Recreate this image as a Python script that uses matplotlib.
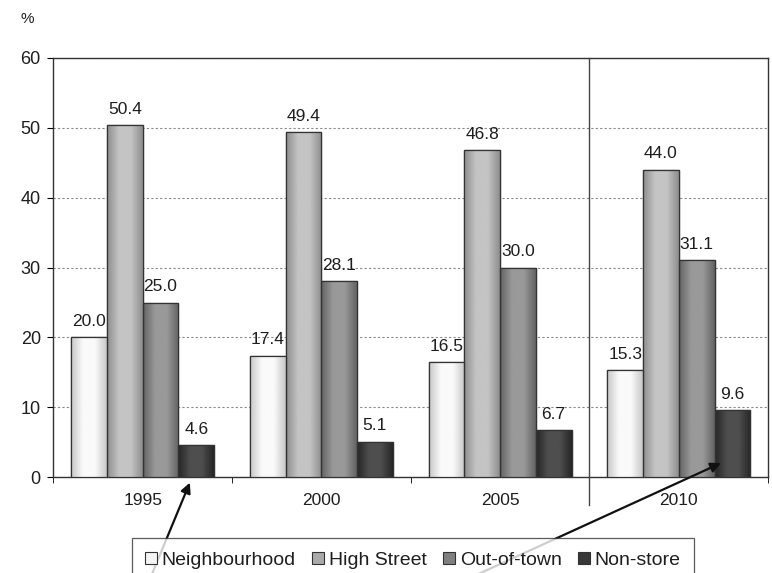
import numpy as np
import matplotlib
matplotlib.use("AGG")
from matplotlib import pyplot as plt
from matplotlib.colors import LinearSegmentedColormap
from matplotlib.patches import Patch

plt.rcParams["font.family"] = ["Liberation Sans", "DejaVu Sans"]

years = ["1995", "2000", "2005", "2010"]
series = ["Neighbourhood", "High Street", "Out-of-town", "Non-store"]
neighbourhood = [20.0, 17.4, 16.5, 15.3]
high_street = [50.4, 49.4, 46.8, 44.0]
out_of_town = [25.0, 28.1, 30.0, 31.1]
non_store = [4.6, 5.1, 6.7, 9.6]
values = [neighbourhood, high_street, out_of_town, non_store]

# edge / highlight shades for the cylinder-like shading of each series
shades = [("#c8c8c8", "#fafafa"), ("#8e8e8e", "#c4c4c4"),
          ("#636363", "#999999"), ("#262626", "#4e4e4e")]
legend_fill = ["#f4f4f4", "#aaaaaa", "#808080", "#383838"]

fig = plt.figure(figsize=(7.72, 5.73), dpi=100)
ax = fig.add_axes([0.069, 0.167, 0.926, 0.732])

width = 0.2
x = np.arange(len(years))
for i, (vals, (edge, light)) in enumerate(zip(values, shades)):
    pos = x - 0.3 + i * width
    bars = ax.bar(pos, vals, width, color=edge, edgecolor="#333333",
                  linewidth=0.9, zorder=3)
    cmap = LinearSegmentedColormap.from_list("s%d" % i, [edge, light, light, edge])
    grad = np.linspace(0, 1, 64).reshape(1, -1)
    for b, v in zip(bars, vals):
        im = ax.imshow(grad, cmap=cmap, aspect="auto", zorder=3.5,
                       extent=[b.get_x(), b.get_x() + width, 0, v])
        im.set_clip_path(b)
        ax.bar(b.get_x() + width / 2, v, width, fill=False,
               edgecolor="#333333", linewidth=0.9, zorder=4)
        ax.annotate("%.1f" % v, (b.get_x() + width / 2, v),
                    xytext=(0, 6), textcoords="offset points",
                    ha="center", va="bottom", fontsize=12.5, color="#1e1e1e",
                    zorder=6)

ax.set_xlim(-0.5, len(years) - 0.5)
ax.set_ylim(0, 60)
ax.set_yticks(range(0, 61, 10))
ax.yaxis.grid(True, linestyle=(0, (2, 2)), color="#888888", linewidth=0.8)
ax.set_axisbelow(True)

ax.set_xticks(x)
ax.set_xticklabels(years, fontsize=12.5, color="#1e1e1e")
ax.set_xticks(np.arange(-0.5, len(years), 1), minor=True)
ax.tick_params(axis="x", which="major", length=0, pad=11)
ax.tick_params(axis="x", which="minor", length=4, direction="out")
ax.tick_params(axis="y", labelsize=13, labelcolor="#1e1e1e", length=4, pad=5)
for s in ax.spines.values():
    s.set_color("#333333")
    s.set_linewidth(1.0)

# divider before the forecast year
ax.axvline(2.5, ymin=-0.067, ymax=1, color="#444444", linewidth=1.0,
           clip_on=False, zorder=5)

fig.text(0.026, 0.967, "%", fontsize=11, ha="left", va="center", color="#1e1e1e")

handles = [Patch(facecolor=c, edgecolor="#333333", linewidth=0.8)
           for c in legend_fill]
leg = fig.legend(handles, series, loc="upper center", ncol=4,
                 bbox_to_anchor=(0.535, 0.061), fontsize=14,
                 handlelength=0.6, handleheight=0.6, handletextpad=0.25,
                 columnspacing=0.85, frameon=True, fancybox=False,
                 borderpad=0.7, borderaxespad=0, edgecolor="#333333")
leg.get_frame().set_linewidth(0.9)
for t in leg.get_texts():
    t.set_color("#1e1e1e")

# arrows pointing at the non-store bars
ax.annotate("", xy=(0.27, -0.4), xytext=(150 / 772, -0.01),
            textcoords="figure fraction",
            arrowprops=dict(arrowstyle="-|>", color="#111111", lw=1.6,
                            mutation_scale=15), annotation_clip=False, zorder=7)
ax.annotate("", xy=(3.25, 2.2), xytext=(468 / 772, -0.01),
            textcoords="figure fraction",
            arrowprops=dict(arrowstyle="-|>", color="#111111", lw=1.6,
                            mutation_scale=15), annotation_clip=False, zorder=7)

fig.savefig("out.png", dpi=100)
